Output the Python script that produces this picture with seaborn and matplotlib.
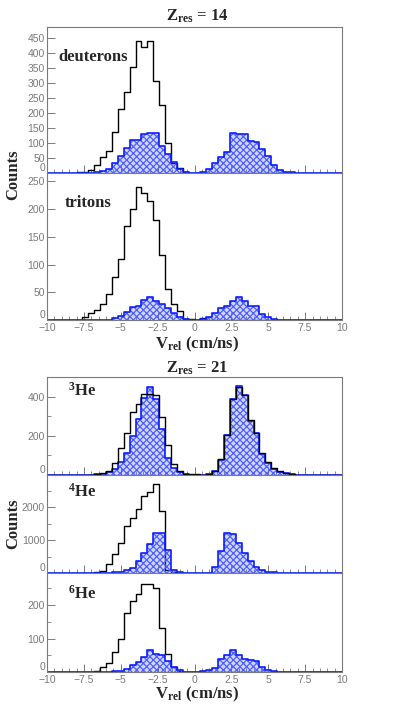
import pandas as pd
import matplotlib
matplotlib.use("Agg")
import matplotlib.pyplot as plt
from matplotlib.ticker import MultipleLocator, FuncFormatter
import seaborn as sns

# 50 bins of 0.4 cm/ns between -10 and 10
bin_edges = [round(-10 + 0.4 * i, 1) for i in range(51)]
bin_centers = [round(-9.8 + 0.4 * i, 1) for i in range(50)]

# Z_res = 14 : all events (black) and selected events (blue hatched)
deut_all = [0, 0, 0, 0, 0, 2, 3, 11, 27, 53,
            72, 136, 212, 268, 353, 440, 418, 437, 305, 227,
            98, 32, 15, 4, 1, 0, 1, 0, 0, 0,
            0, 0, 0, 0, 0, 0, 0, 0, 0, 0,
            0, 0, 0, 0, 0, 0, 0, 0, 0, 0]
deut_sel = [0, 0, 0, 0, 0, 0, 0, 0, 2, 8,
            13, 32, 57, 82, 110, 110, 130, 134, 134, 90,
            62, 38, 12, 3, 1, 0, 4, 12, 32, 52,
            70, 133, 129, 128, 106, 104, 80, 55, 28, 10,
            3, 2, 0, 0, 0, 0, 0, 0, 0, 0]
trit_all = [0, 0, 0, 0, 0, 0, 6, 13, 18, 29,
            47, 78, 110, 169, 201, 240, 229, 214, 180, 117,
            55, 28, 17, 2, 1, 0, 3, 0, 0, 0,
            0, 0, 0, 0, 0, 0, 0, 0, 0, 0,
            0, 0, 0, 0, 0, 0, 0, 0, 0, 0]
trit_sel = [0, 0, 0, 0, 0, 0, 0, 0, 0, 0,
            0, 3, 8, 15, 24, 26, 36, 42, 34, 28,
            21, 12, 6, 1, 0, 0, 1, 6, 12, 22,
            26, 35, 42, 34, 26, 25, 10, 5, 1, 0,
            0, 0, 0, 0, 0, 0, 0, 0, 0, 0]

# Z_res = 21
he3_all = [0, 0, 0, 0, 0, 0, 0, 2, 4, 10,
           22, 60, 140, 215, 322, 360, 415, 412, 408, 297,
           152, 58, 18, 7, 3, 3, 2, 6, 22, 80,
           205, 388, 450, 410, 280, 215, 110, 68, 35, 18,
           11, 5, 1, 0, 0, 0, 0, 0, 0, 0]
he3_sel = [0, 0, 0, 0, 0, 0, 0, 0, 3, 6,
           14, 30, 65, 112, 200, 285, 395, 450, 390, 235,
           88, 35, 15, 5, 2, 1, 1, 4, 18, 75,
           205, 388, 452, 408, 278, 212, 106, 62, 30, 15,
           8, 3, 0, 0, 0, 0, 0, 0, 0, 0]
he4_all = [0, 0, 0, 0, 0, 0, 0, 10, 25, 75,
           290, 600, 910, 1420, 1690, 1950, 2340, 2450, 2710, 1880,
           100, 30, 10, 5, 3, 2, 0, 0, 0, 0,
           0, 0, 0, 0, 0, 0, 0, 0, 0, 0,
           0, 0, 0, 0, 0, 0, 0, 0, 0, 0]
he4_sel = [0, 0, 0, 0, 0, 0, 0, 0, 0, 0,
           10, 25, 35, 90, 170, 365, 605, 900, 1230, 1230,
           720, 95, 25, 8, 3, 2, 5, 20, 195, 680,
           1230, 1200, 910, 605, 360, 205, 100, 50, 28, 14,
           5, 0, 0, 0, 0, 0, 0, 0, 0, 0]
he6_all = [0, 0, 0, 0, 0, 0, 0, 0, 3, 15,
           28, 60, 100, 175, 212, 232, 262, 264, 250, 133,
           55, 15, 4, 0, 0, 0, 0, 0, 0, 0,
           0, 0, 0, 0, 0, 0, 0, 0, 0, 0,
           0, 0, 0, 0, 0, 0, 0, 0, 0, 0]
he6_sel = [0, 0, 0, 0, 0, 0, 0, 0, 0, 0,
           0, 2, 4, 10, 22, 31, 46, 65, 55, 50,
           32, 15, 5, 1, 0, 0, 2, 5, 13, 38,
           50, 65, 52, 38, 36, 34, 14, 5, 2, 0,
           0, 0, 0, 0, 0, 0, 0, 0, 0, 0]

x_ticks = [-10, -7.5, -5, -2.5, 0, 2.5, 5, 7.5, 10]

BLUE = "#0a1eff"
HATCH = "#4f60ff"
GRAY = "#7a7a7a"

sns.set_style("white")
plt.rcParams["font.family"] = ["Liberation Sans", "DejaVu Sans"]
plt.rcParams["mathtext.fontset"] = "custom"
plt.rcParams["mathtext.rm"] = "Liberation Serif:bold"
plt.rcParams["mathtext.it"] = "Liberation Serif:italic:bold"
plt.rcParams["mathtext.bf"] = "Liberation Serif:bold"
plt.rcParams["hatch.linewidth"] = 0.9

SERIF = dict(family="Liberation Serif", fontweight="bold", fontsize=12)


def draw_panel(ax, counts_all, counts_sel, ymax, ymajor, yminor, label, lx, ly,
               black_on_top=False, xlabels=False):
    df = pd.DataFrame({"v": bin_centers, "all": counts_all, "sel": counts_sel})
    # hatched fill of the selected events
    sns.histplot(data=df, x="v", weights="sel", bins=bin_edges, element="step",
                 fill=True, color=HATCH, alpha=0.25, linewidth=0, ax=ax, zorder=2)
    fill = ax.collections[-1]
    fill.set_hatch("xxxxx")
    fill.set_edgecolor(HATCH)
    fill.set_linewidth(0)
    # blue outline
    sns.histplot(data=df, x="v", weights="sel", bins=bin_edges, element="step",
                 fill=False, color=BLUE, linewidth=1.2, ax=ax, zorder=2.5)
    # all events, black outline
    sns.histplot(data=df, x="v", weights="all", bins=bin_edges, element="step",
                 fill=False, color="black", linewidth=1.0, ax=ax,
                 zorder=3 if black_on_top else 1)
    ax.set(xlabel="", ylabel="")
    ax.set_xlim(-10, 10)
    ax.set_ylim(0, ymax)
    ax.set_xticks(x_ticks)
    ax.xaxis.set_minor_locator(MultipleLocator(0.5))
    ax.xaxis.set_major_formatter(FuncFormatter(lambda v, p: f"{v:g}".replace("-", "\u2212")))
    ax.set_yticks([t for t in range(0, int(ymax) + 1, ymajor)])
    if yminor:
        ax.yaxis.set_minor_locator(MultipleLocator(yminor))
    ax.tick_params(which="both", direction="in", colors=GRAY, labelsize=7.5,
                   top=False, right=False, bottom=True, left=True, pad=1.5)
    ax.tick_params(which="major", length=6, width=0.7)
    ax.tick_params(which="minor", length=3, width=0.6)
    ax.tick_params(axis="x", labelbottom=xlabels, pad=2.5)
    for s in ax.spines.values():
        s.set_color(GRAY)
        s.set_linewidth(0.8)
    # lift the "0" label a little so it does not run into the label below it
    ax.yaxis.get_major_ticks()[0].label1.set_verticalalignment("bottom")
    ax.text(lx, ly, label, transform=ax.transAxes, ha="left", va="center", **SERIF)


fig = plt.figure(figsize=(3.99, 7.08), dpi=100)
left, width = 47 / 399, 295 / 399


def add_axes(top_px, bottom_px):
    return fig.add_axes([left, 1 - bottom_px / 708, width, (bottom_px - top_px) / 708])


ax1 = add_axes(27, 173)
ax2 = add_axes(173, 320)
ax3 = add_axes(377, 475)
ax4 = add_axes(475, 573.3)
ax5 = add_axes(573.3, 672)

draw_panel(ax1, deut_all, deut_sel, 485, 50, None, "deuterons", 0.037, 0.795)
draw_panel(ax2, trit_all, trit_sel, 265, 50, None, "tritons", 0.061, 0.796, xlabels=True)
draw_panel(ax3, he3_all, he3_sel, 500, 200, 100, "$^{3}$He", 0.071, 0.86, black_on_top=True)
draw_panel(ax4, he4_all, he4_sel, 2980, 1000, 500, "$^{4}$He", 0.071, 0.83)
draw_panel(ax5, he6_all, he6_sel, 295, 100, 50, "$^{6}$He", 0.071, 0.79, xlabels=True)

fig.text(197 / 399, 1 - 16 / 708, "Z$_{\\rm res}$ = 14", ha="center", va="center", **SERIF)
fig.text(197 / 399, 1 - 368 / 708, "Z$_{\\rm res}$ = 21", ha="center", va="center", **SERIF)
fig.text(197 / 399, 1 - 344 / 708, "V$_{\\rm rel}$ (cm/ns)", ha="center", va="center", **SERIF)
fig.text(197 / 399, 1 - 694 / 708, "V$_{\\rm rel}$ (cm/ns)", ha="center", va="center", **SERIF)
fig.text(13 / 399, 1 - 175 / 708, "Counts", rotation=90, ha="center", va="center", **SERIF)
fig.text(13 / 399, 1 - 524 / 708, "Counts", rotation=90, ha="center", va="center", **SERIF)

fig.savefig("out.png", dpi=100)
